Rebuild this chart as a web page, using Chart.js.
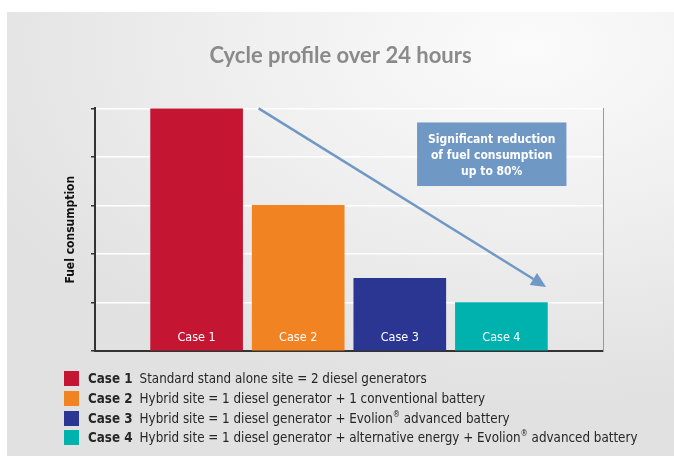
<!DOCTYPE html>
<html>
<head>
<meta charset="utf-8">
<script src="https://cdn.jsdelivr.net/npm/chart.js@4.4.1/dist/chart.umd.min.js"></script>
<style>
html,body{margin:0;padding:0;background:#fff;}
#wrap{position:relative;width:674px;height:456px;overflow:hidden;}
#panel{position:absolute;left:7px;top:12px;right:0;bottom:0;
  background:radial-gradient(ellipse 90% 80% at 78% 8%, #fbfbfb 0%, #f0f0f0 45%, #e1e1e1 100%);}
#chart{position:absolute;left:0;top:0;}
#legend{position:absolute;left:64px;top:369px;font-family:"DejaVu Sans Condensed","DejaVu Sans",sans-serif;font-size:13.3px;color:#262626;}
.row{display:flex;align-items:center;height:19.7px;white-space:nowrap;}
.sw{width:15px;height:15px;margin-right:9px;flex:none;}
.row b{margin-right:7px;}
sup{font-size:8px;line-height:0;vertical-align:6px;}
</style>
</head>
<body>
<div id="wrap">
<div id="panel"></div>
<canvas id="chart" width="674" height="456"></canvas>
<div id="legend"></div>
</div>
<script>
const categories = ['Case 1','Case 2','Case 3','Case 4'];
const consumption = [5, 3, 1.5, 1];
const barColors = ['#c41632','#f28322','#2b3592','#00b2ae'];
const descriptions = [
  'Standard stand alone site = 2 diesel generators',
  'Hybrid site = 1 diesel generator + 1 conventional battery',
  'Hybrid site = 1 diesel generator + Evolion® advanced battery',
  'Hybrid site = 1 diesel generator + alternative energy + Evolion® advanced battery'
];
const calloutLines = ['Significant reduction','of fuel consumption','up to 80%'];

// arrow and callout placed in data units
const arrow = {from:[1.61, 5], to:[4.44, 1.32]};
const callout = {x0:3.17, x1:4.64, y0:4.71, y1:3.40};

const blue = '#7098c5';
const narrow = '"DejaVu Sans Condensed","DejaVu Sans",sans-serif';

const overlay = {
  id:'overlay',
  afterDatasetsDraw(chart){
    const c = chart.ctx, xs = chart.scales.x, ys = chart.scales.y;
    c.save();
    // labels inside bars
    c.fillStyle = '#fff';
    c.font = '12.5px ' + narrow;
    c.textAlign = 'center';
    c.textBaseline = 'middle';
    categories.forEach((cat,i)=>{
      c.fillText(cat, xs.getPixelForValue(i+1), ys.getPixelForValue(0) - 13);
    });
    // arrow
    const x1 = xs.getPixelForValue(arrow.from[0]), y1 = ys.getPixelForValue(arrow.from[1]);
    const x2 = xs.getPixelForValue(arrow.to[0]), y2 = ys.getPixelForValue(arrow.to[1]);
    const ang = Math.atan2(y2-y1, x2-x1);
    const hl = 15, hw = 7;
    c.strokeStyle = blue; c.fillStyle = blue; c.lineWidth = 2.5;
    c.beginPath(); c.moveTo(x1,y1);
    c.lineTo(x2 - hl*Math.cos(ang), y2 - hl*Math.sin(ang)); c.stroke();
    c.beginPath();
    c.moveTo(x2,y2);
    c.lineTo(x2 - hl*Math.cos(ang) + hw*Math.sin(ang), y2 - hl*Math.sin(ang) - hw*Math.cos(ang));
    c.lineTo(x2 - hl*Math.cos(ang) - hw*Math.sin(ang), y2 - hl*Math.sin(ang) + hw*Math.cos(ang));
    c.closePath(); c.fill();
    // callout box
    const bx0 = xs.getPixelForValue(callout.x0), bx1 = xs.getPixelForValue(callout.x1);
    const by0 = ys.getPixelForValue(callout.y0), by1 = ys.getPixelForValue(callout.y1);
    c.fillRect(bx0, by0, bx1-bx0, by1-by0);
    c.fillStyle = '#fff';
    c.font = 'bold 12px ' + narrow;
    const cx = (bx0+bx1)/2, cy = (by0+by1)/2 + 2;
    calloutLines.forEach((t,i)=>{
      c.fillText(t, cx, cy + (i-1)*16);
    });
    c.restore();
  }
};

new Chart(document.getElementById('chart'), {
  type:'bar',
  data:{
    datasets:[{
      data: categories.map((c,i)=>({x:i+1, y:consumption[i]})),
      backgroundColor: barColors,
      borderWidth:0,
      barThickness:92
    }]
  },
  options:{
    responsive:false,
    animation:false,
    layout:{padding:{left:7,right:0,top:0,bottom:105}},
    plugins:{
      legend:{display:false},
      tooltip:{enabled:false},
      title:{
        display:true,
        text:'Cycle profile over 24 hours',
        color:'#8a8a8a',
        font:{family:'Lato', size:22, weight:'bold'},
        padding:{top:43,bottom:39}
      }
    },
    scales:{
      x:{
        type:'linear', min:0, max:5, offset:false,
        ticks:{display:false},
        grid:{display:false, drawTicks:false},
        border:{color:'#333', width:2},
        afterFit(s){ s.height = 0; }
      },
      y:{
        min:0, max:5,
        ticks:{display:false, stepSize:1},
        grid:{color:'#ffffff', lineWidth:1.5, tickColor:'#333', tickLength:4, tickWidth:1.5},
        border:{color:'#333', width:2},
        title:{display:true, text:'Fuel consumption', color:'#111',
          font:{family:'DejaVu Sans Condensed', size:12, weight:'bold'}, padding:{top:57,bottom:0}},
        afterFit(s){ s.width = 88; }
      },
      yr:{
        position:'right', min:0, max:5,
        ticks:{display:false},
        grid:{display:false, drawTicks:false},
        border:{color:'#9a9a9a', width:1},
        afterFit(s){ s.width = 71; }
      }
    }
  },
  plugins:[overlay]
});

// legend
const legend = document.getElementById('legend');
categories.forEach((cat,i)=>{
  const row = document.createElement('div');
  row.className = 'row';
  const sw = document.createElement('span');
  sw.className = 'sw';
  sw.style.background = barColors[i];
  const b = document.createElement('b');
  b.textContent = cat;
  const t = document.createElement('span');
  t.innerHTML = descriptions[i].replace(/®/g,'<sup>®</sup>');
  row.append(sw, b, t);
  legend.appendChild(row);
});
</script>
</body>
</html>
